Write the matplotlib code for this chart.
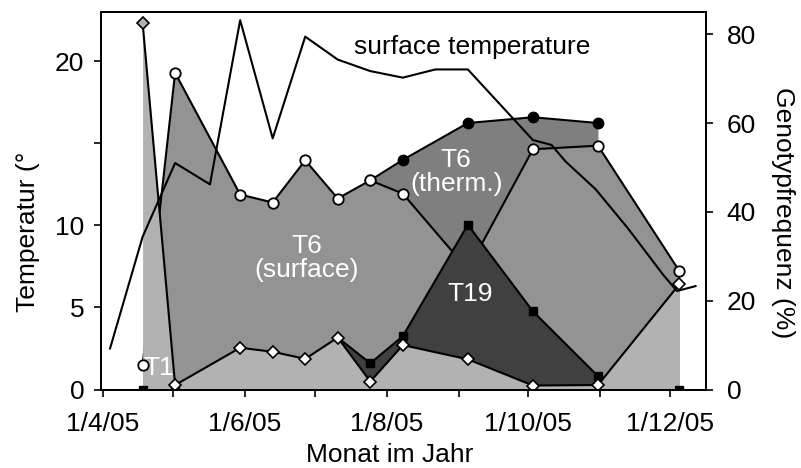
import datetime as dt
import numpy as np
import matplotlib
matplotlib.use("Agg")
import matplotlib.pyplot as plt
import matplotlib.dates as mdates
from matplotlib.ticker import FuncFormatter, FixedLocator

plt.rcParams["font.family"] = ["Liberation Sans", "DejaVu Sans"]
plt.rcParams["font.size"] = 19

nan = np.nan

# Genotype sampling dates and frequencies (%), right axis
geno_dates = ["2005-04-18", "2005-05-02", "2005-05-30", "2005-06-13", "2005-06-27",
              "2005-07-11", "2005-07-25", "2005-08-08", "2005-09-05", "2005-10-03",
              "2005-10-31", "2005-12-05"]
t1 = [82.6, 1.0, 9.4, 8.5, 6.9, 11.7, 1.8, 10.0, 6.8, 0.9, 1.0, 23.7]
t19 = [0, 0, nan, nan, nan, 11.7, 5.9, 12.0, 37.1, 17.6, 3.0, 0]
t6_surface = [5.5, 71.3, 43.9, 42.1, 51.6, 43.0, 47.1, 44.1, 27.0, 54.1, 54.9, 26.7]
t6_therm = [nan, nan, nan, nan, nan, nan, 47.1, 51.7, 60.0, 61.3, 60.0, nan]

# Surface temperature, left axis
temp_dates = ["2005-04-04", "2005-04-18", "2005-05-02", "2005-05-17", "2005-05-30",
              "2005-06-13", "2005-06-27", "2005-07-11", "2005-07-25", "2005-08-08",
              "2005-08-22", "2005-09-05", "2005-10-03", "2005-10-11", "2005-10-17",
              "2005-10-30", "2005-11-13", "2005-11-28", "2005-12-04", "2005-12-12"]
temp = [2.5, 9.3, 13.8, 12.5, 22.5, 15.3, 21.5, 20.1, 19.4, 19.0,
        19.5, 19.5, 15.2, 14.9, 13.9, 12.2, 9.8, 7.0, 6.0, 6.3]

gd = [dt.datetime.strptime(d, "%Y-%m-%d") for d in geno_dates]
td = [dt.datetime.strptime(d, "%Y-%m-%d") for d in temp_dates]
t1 = np.array(t1)
t19 = np.array(t19, dtype=float)
t6_surface = np.array(t6_surface)
t6_therm = np.array(t6_therm, dtype=float)

fig = plt.figure(figsize=(8.01, 4.68), dpi=100)
ax = fig.add_axes([101 / 801, 1 - 389.5 / 468, 605 / 801, 377.5 / 468])
ax2 = ax.twinx()
ax.set_zorder(ax2.get_zorder() + 1)
ax.patch.set_visible(False)

lw = 1.5
# overlapping areas, back to front
ax2.fill_between(gd, 0, t6_therm, color="#7f7f7f", lw=0, zorder=1)
ax2.plot(gd, t6_therm, color="black", lw=lw, zorder=1.1)
ax2.fill_between(gd, 0, t6_surface, color="#939393", lw=0, zorder=1.2)
ax2.plot(gd, t6_surface, color="black", lw=lw, zorder=1.3)
ax2.fill_between(gd, 0, t19, color="#404040", lw=0, zorder=1.4)
ax2.plot(gd, t19, color="black", lw=lw, zorder=1.5)
ax2.fill_between(gd, 0, t1, color="#b2b2b2", lw=0, zorder=1.6)
ax2.plot(gd, t1, color="black", lw=lw, zorder=1.7)

# markers (hidden ones left out)
ax2.plot(gd, t6_therm, ls="none", marker="o", ms=7.5, mfc="black", mec="black", zorder=3)
ax2.plot(gd, t6_surface, ls="none", marker="o", ms=7.5, mfc="white", mec="black",
         mew=1.3, markevery=[0, 1, 2, 3, 4, 5, 6, 7, 9, 10, 11], zorder=3.1)
ax2.plot(gd, t19, ls="none", marker="s", ms=6, mfc="black", mec="black",
         markevery=[0, 1, 6, 7, 8, 9, 10, 11], zorder=3.2)
ax2.plot(gd[1:], t1[1:], ls="none", marker="D", ms=6, mfc="white", mec="black",
         mew=1.2, zorder=3.3)
ax2.plot(gd[:1], t1[:1], ls="none", marker="D", ms=6, mfc="#b2b2b2", mec="black",
         mew=1.2, zorder=3.3)

# temperature line on top
ax.plot(td, temp, color="black", lw=lw, zorder=5)

# labels inside the chart
ax2.text(mdates.date2num(dt.datetime(2005, 4, 25)), 4.8, "T1", color="white",
         ha="center", va="center", zorder=10)
ax2.text(mdates.date2num(dt.datetime(2005, 6, 27, 18)), 29.6, "T6\n(surface)", color="white",
         ha="center", va="center", linespacing=1.0, zorder=10)
ax2.text(mdates.date2num(dt.datetime(2005, 8, 31)), 49.0, "T6\n(therm.)", color="white",
         ha="center", va="center", linespacing=1.0, zorder=10)
ax2.text(mdates.date2num(dt.datetime(2005, 9, 6)), 21.5, "T19", color="white",
         ha="center", va="center", zorder=10)
ax2.text(mdates.date2num(dt.datetime(2005, 9, 7)), 77.2, "surface temperature", color="black",
         ha="center", va="center", zorder=10)

# axes limits and ticks
x0 = mdates.date2num(dt.datetime(2005, 4, 1))
ax.set_xlim(x0 - 0.9, x0 + 259.5)
ax.set_ylim(0, 23)
ax2.set_ylim(0, 85)

ax.xaxis.set_major_locator(mdates.MonthLocator())

def month_label(x, pos):
    d = mdates.num2date(x)
    if d.month % 2 == 0:
        return f"{d.day}/{d.month}/{d:%y}"
    return ""

ax.xaxis.set_major_formatter(FuncFormatter(month_label))
ax.yaxis.set_major_locator(FixedLocator([0, 5, 10, 15, 20]))
ax.set_yticklabels(["0", "5", "10", "", "20"])
ax2.yaxis.set_major_locator(FixedLocator([0, 20, 40, 60, 80]))

for a in (ax, ax2):
    a.tick_params(direction="out", length=5, width=1.2, pad=7, labelsize=19)
    for s in a.spines.values():
        s.set_linewidth(1.4)
ax.tick_params(axis="x", pad=11)
ax2.tick_params(axis="y", pad=10)

fig.text(28 / 801, 1 - 232 / 468, "Temperatur (°", rotation=90, ha="center", va="center",
         fontsize=19)
fig.text(783 / 801, 1 - 213 / 468, "Genotypfrequenz (%)", rotation=-90, ha="center",
         va="center", fontsize=19)
fig.text(390 / 801, 1 - 455 / 468, "Monat im Jahr", ha="center", va="center", fontsize=19)

fig.savefig("out.png", dpi=100)
